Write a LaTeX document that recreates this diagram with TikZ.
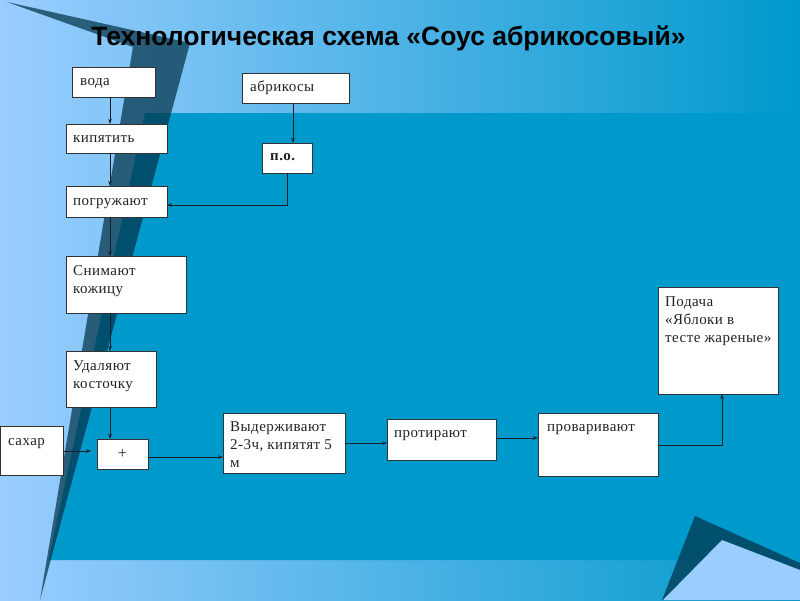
\documentclass[tikz,border=0pt]{standalone}
\usepackage{fontspec}
\setmainfont{Liberation Serif}
\newfontfamily\boxfont[LetterSpace=3]{Liberation Serif}
\newfontfamily\titlefont{Liberation Sans}
\usetikzlibrary{arrows.meta,calc}
\definecolor{lightbg}{RGB}{155,205,255}
\definecolor{midblue}{RGB}{0,153,204}
\definecolor{shadowc}{RGB}{0,48,68}
\definecolor{boxtext}{RGB}{35,35,35}
\definecolor{linec}{RGB}{20,30,40}
\newcommand\mybox[7]{% name, x1, y1, x2, y2, text, offset
  \node[box, minimum width={#4-#2}, minimum height={#5-#3}] (#1) at (#2,#3) {};
  \node[txt] (#1-t) at ($(#1.north west)+(#7)$) {\parbox[t]{200pt}{\raggedright #6}};
}
\begin{document}
\begin{tikzpicture}[x=1pt,y=-1pt,
  box/.style={draw=black!80, line width=0.8pt, fill=white, rectangle, inner sep=0pt, outer sep=0pt, anchor=north west},
  txt/.style={text=boxtext, inner sep=0pt, anchor=base west, font=\boxfont\fontsize{15}{18}\selectfont},
  arr/.style={draw=linec, line width=0.9pt, -{Stealth[length=5pt,width=3.5pt]}},
  shadowshape/.style={fill=shadowc, fill opacity=0.7},
]
\useasboundingbox (0,0) rectangle (800,600);
% background
\shade[left color=lightbg, right color=midblue] (0,0) rectangle (800,600);
\fill[midblue] (145,113) -- (800,113) -- (800,560) -- (48.6,560) -- cycle;
\fill[shadowshape] (7,2) -- (190,43) -- (40,600) -- (133,47) -- cycle;
\fill[shadowshape] (662,600) -- (695,516) -- (800,563) -- (800,600) -- cycle;
\fill[lightbg] (663,600) -- (722,540) -- (800,570) -- (800,600) -- cycle;
% title
\node[font=\titlefont\bfseries\fontsize{26.5}{30}\selectfont, anchor=base] (title) at (388.5,45) {Технологическая схема «Соус абрикосовый»};
% boxes
\mybox{voda}{72}{67}{155}{97}{вода}{8,18}
\mybox{abr}{242}{73}{349}{103}{абрикосы}{8,18}
\mybox{kip}{66}{124}{167}{153}{кипятить}{7,18}
\node[box, minimum width=50, minimum height=30] (po) at (262,143) {};
\node[txt, font=\boxfont\fontsize{15}{18}\selectfont\bfseries] (po-t) at ($(po.north west)+(8,17)$) {п.о.};
\mybox{pogr}{66}{186}{167}{217}{погружают}{7,19}
\mybox{snim}{66}{256}{186}{313}{Снимают\\кожицу}{7,19}
\mybox{udal}{66}{351}{156}{407}{Удаляют\\косточку}{7,19}
\mybox{sugar}{0}{426}{63}{475}{сахар}{8,19}
\node[box, minimum width=51, minimum height=30] (plus) at (97,439) {};
\node[text=boxtext, font=\fontsize{16}{18}\selectfont] (plus-t) at (plus.center) {+};
\mybox{vyd}{223}{413}{345}{473}{Выдерживают\\2-3ч, кипятят 5\\м}{7,18}
\mybox{prot}{387}{419}{496}{460}{протирают}{7,18}
\mybox{prov}{538}{413}{658}{476}{проваривают}{9,18}
\mybox{pod}{658}{287}{778}{394}{Подача\\«Яблоки в\\тесте жареные»}{7,19}
% connectors
\coordinate (lx) at (110,0);
\draw[arr] (voda.south -| lx) -- (kip.north -| lx);
\draw[arr] (kip.south -| lx) -- (pogr.north -| lx);
\draw[arr] (pogr.south -| lx) -- (snim.north -| lx);
\draw[arr] (snim.south -| lx) -- (udal.north -| lx);
\draw[arr] (udal.south -| lx) -- (plus.north -| lx);
\coordinate (ax) at (293,0);
\draw[arr] (abr.south -| ax) -- (po.north -| ax);
\coordinate (py) at (0,205);
\draw[arr] (po.south) |- (pogr.east |- py);
\coordinate (sy) at (0,451);
\draw[arr, shorten >=6pt] (sugar.east |- sy) -- (plus.west |- sy);
\coordinate (ply) at (0,457);
\draw[arr] (plus.east |- ply) -- (vyd.west |- ply);
\coordinate (vy) at (0,443);
\draw[arr] (vyd.east |- vy) -- (prot.west |- vy);
\coordinate (pry) at (0,438);
\draw[arr] (prot.east |- pry) -- (prov.west |- pry);
\coordinate (qy) at (0,445);
\coordinate (qx) at (722,0);
\draw[arr] (prov.east |- qy) -| (pod.south -| qx);
\end{tikzpicture}
\end{document}
